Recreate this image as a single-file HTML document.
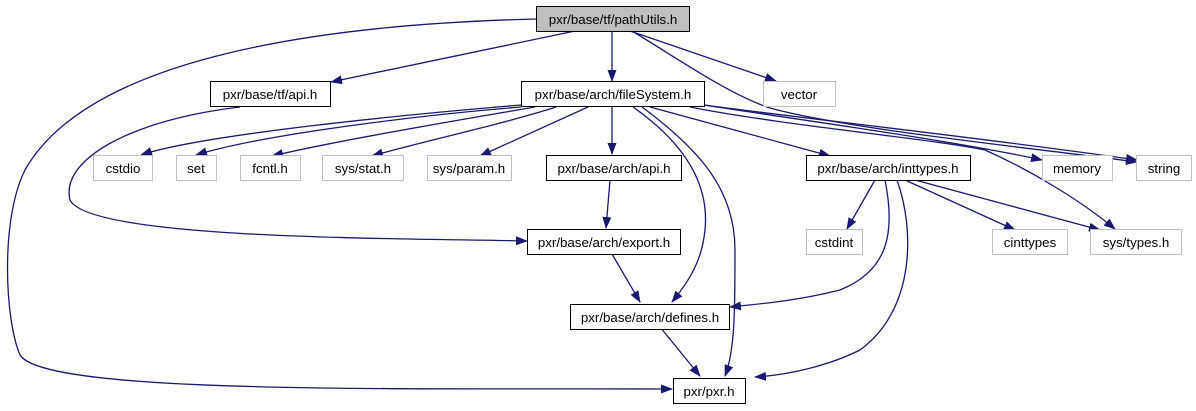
<!DOCTYPE html>
<html><head><meta charset="utf-8"><style>
html,body{margin:0;padding:0;background:#fff;}
svg{display:block;}
text{font-family:"Liberation Sans",Helvetica,sans-serif;font-size:13.3px;fill:#000;}
</style></head><body>
<svg width="1196" height="411" viewBox="0 0 1196 411" xmlns="http://www.w3.org/2000/svg">
<defs>
<marker id="a" markerWidth="12" markerHeight="9" refX="11" refY="4.5" orient="auto" markerUnits="userSpaceOnUse">
<path d="M0,0 L12,4.5 L0,9 z" fill="#191970"/></marker>
</defs>
<g fill="none" stroke="#191970" stroke-width="1.3" marker-end="url(#a)">
<path d="M537,19 C330,24 90,55 25,170 C0,220 5,320 20,355 C45,395 400,388 672,389"/>
<path d="M575,31 L331,82"/>
<path d="M612,31 L612,81"/>
<path d="M630,31 L776,81"/>
<path d="M632,31 C680,60 730,95 770,108 C850,130 1050,150 1137,162"/>
<path d="M704,105 C800,118 1000,140 1137,160"/>
<path d="M704,105 C800,120 950,140 1042,160"/>
<path d="M690,107 C780,125 940,140 985,150 C1030,170 1080,200 1115,229"/>
<path d="M521,105 C400,115 200,135 141,155"/>
<path d="M521,107 C420,115 260,135 196,155"/>
<path d="M535,107 C460,120 340,140 272,156"/>
<path d="M556,107 C500,125 420,142 372,156"/>
<path d="M588,107 L480,156"/>
<path d="M612,107 L612,154"/>
<path d="M650,107 L830,156"/>
<path d="M633,107 C680,140 710,180 705,230 C702,260 690,280 672,302"/>
<path d="M642,107 C700,150 735,190 735,250 C735,310 735,350 725,376"/>
<path d="M610,180 L606,228"/>
<path d="M612,254 L640,302"/>
<path d="M660,327 L700,376"/>
<path d="M240,107 C130,120 60,160 70,200 C90,240 400,238 527,241"/>
<path d="M875,180 L847,229"/>
<path d="M905,180 L1015,230"/>
<path d="M915,180 L1100,230"/>
<path d="M885,180 C895,230 890,270 840,290 C800,300 770,303 730,307"/>
<path d="M897,180 C915,230 915,310 860,350 C830,365 790,375 755,377"/>
</g>
<g stroke-width="1">
<rect x="536.5" y="6.5" width="153" height="25" fill="#bfbfbf" stroke="#000"/>
<rect x="210.5" y="81.5" width="120" height="25" fill="#fff" stroke="#000"/>
<rect x="521.5" y="81.5" width="183" height="25" fill="#fff" stroke="#000"/>
<rect x="763.5" y="81.5" width="72" height="25" fill="#fff" stroke="#bfbfbf"/>
<rect x="93.5" y="155.5" width="59" height="25" fill="#fff" stroke="#bfbfbf"/>
<rect x="176.5" y="155.5" width="40" height="25" fill="#fff" stroke="#bfbfbf"/>
<rect x="240.5" y="155.5" width="60" height="25" fill="#fff" stroke="#bfbfbf"/>
<rect x="322.5" y="155.5" width="81" height="25" fill="#fff" stroke="#bfbfbf"/>
<rect x="427.5" y="155.5" width="84" height="25" fill="#fff" stroke="#bfbfbf"/>
<rect x="546.5" y="155.5" width="135" height="25" fill="#fff" stroke="#000"/>
<rect x="806.5" y="155.5" width="164" height="25" fill="#fff" stroke="#000"/>
<rect x="1042.5" y="155.5" width="70" height="25" fill="#fff" stroke="#bfbfbf"/>
<rect x="1136.5" y="155.5" width="55" height="25" fill="#fff" stroke="#bfbfbf"/>
<rect x="806.5" y="229.5" width="56" height="25" fill="#fff" stroke="#bfbfbf"/>
<rect x="992.5" y="229.5" width="75" height="25" fill="#fff" stroke="#bfbfbf"/>
<rect x="1090.5" y="229.5" width="91" height="25" fill="#fff" stroke="#bfbfbf"/>
<rect x="527.5" y="229.5" width="153" height="25" fill="#fff" stroke="#000"/>
<rect x="570.5" y="304.5" width="159" height="25" fill="#fff" stroke="#000"/>
<rect x="673.5" y="378.5" width="72" height="25" fill="#fff" stroke="#000"/>
</g>
<g text-anchor="middle">
<text x="613" y="24">pxr/base/tf/pathUtils.h</text>
<text x="270" y="99">pxr/base/tf/api.h</text>
<text x="613" y="99">pxr/base/arch/fileSystem.h</text>
<text x="799" y="99">vector</text>
<text x="123" y="173">cstdio</text>
<text x="196" y="173">set</text>
<text x="270" y="173">fcntl.h</text>
<text x="363" y="173">sys/stat.h</text>
<text x="469" y="173">sys/param.h</text>
<text x="614" y="173">pxr/base/arch/api.h</text>
<text x="888" y="173">pxr/base/arch/inttypes.h</text>
<text x="1077" y="173">memory</text>
<text x="1164" y="173">string</text>
<text x="834" y="247">cstdint</text>
<text x="1030" y="247">cinttypes</text>
<text x="1136" y="247">sys/types.h</text>
<text x="604" y="247">pxr/base/arch/export.h</text>
<text x="650" y="322">pxr/base/arch/defines.h</text>
<text x="709" y="396">pxr/pxr.h</text>
</g>
</svg>
</body></html>
